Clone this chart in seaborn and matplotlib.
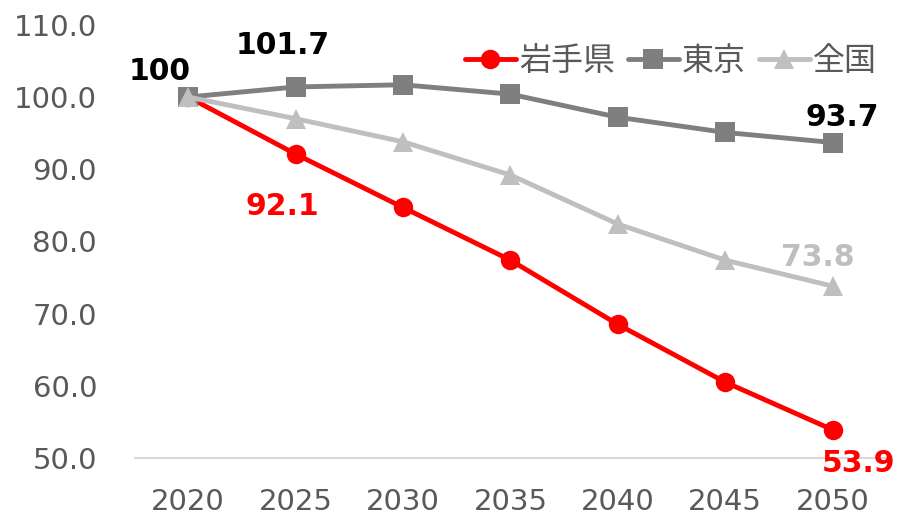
import pandas as pd
import matplotlib
matplotlib.use("Agg")
import matplotlib.pyplot as plt
import seaborn as sns

# データ
years = [2020, 2025, 2030, 2035, 2040, 2045, 2050]
iwate = [100.0, 92.1, 84.7, 77.4, 68.5, 60.5, 53.9]
tokyo = [100.0, 101.4, 101.7, 100.4, 97.2, 95.1, 93.7]
zenkoku = [100.0, 97.0, 93.8, 89.2, 82.4, 77.4, 73.8]
areas = ["岩手県", "東京", "全国"]
colors = ["#FF0000", "#7F7F7F", "#BFBFBF"]

df = pd.DataFrame({
    "year": years * 3,
    "value": iwate + tokyo + zenkoku,
    "area": [areas[0]] * 7 + [areas[1]] * 7 + [areas[2]] * 7,
})

sns.set_style("white")
plt.rcParams["font.family"] = ["DejaVu Sans", "Noto Sans CJK JP"]

fig = plt.figure(figsize=(8.97, 5.18), dpi=100)
ax = fig.add_axes([0.150, 0.116, 0.838, 0.836])

sns.lineplot(data=df, x="year", y="value", hue="area", style="area",
             hue_order=areas, style_order=areas, palette=colors,
             markers=["o", "s", "^"], dashes=False, linewidth=3.5,
             markersize=14, markeredgewidth=0, ax=ax)

ax.set_xlim(2017.5, 2052.5)
ax.set_ylim(50, 110)
ax.set_xticks(years)
ax.set_yticks(range(50, 111, 10))
ax.set_yticklabels([f"{v:.1f}" for v in range(50, 111, 10)])
ax.tick_params(axis="both", labelsize=21, colors="#595959", length=0)
ax.tick_params(axis="y", pad=27)
ax.tick_params(axis="x", pad=22)
ax.set_xlabel("")
ax.set_ylabel("")
for s in ["top", "right", "left"]:
    ax.spines[s].set_visible(False)
ax.spines["bottom"].set_color("#D9D9D9")
ax.spines["bottom"].set_linewidth(1.5)

# データラベル
lab = dict(fontsize=21.5, fontweight="bold", ha="center", va="center")
ax.text(2018.66, 103.6, "100", color="black", **lab)
ax.text(2024.4, 107.2, "101.7", color="black", **lab)
ax.text(2050.45, 97.1, "93.7", color="black", **lab)
ax.text(2024.4, 84.8, "92.1", color="#FF0000", **lab)
ax.text(2049.3, 77.7, "73.8", color="#BFBFBF", **lab)
ax.text(2051.2, 49.2, "53.9", color="#FF0000", clip_on=False, **lab)

leg = ax.legend(loc="upper right", bbox_to_anchor=(1.005, 0.98), ncol=3,
                frameon=False, fontsize=23, handlelength=1.6,
                columnspacing=0.4, handletextpad=0.1, borderaxespad=0)
for t in leg.get_texts():
    t.set_color("#595959")

fig.savefig("out.png", dpi=100)
